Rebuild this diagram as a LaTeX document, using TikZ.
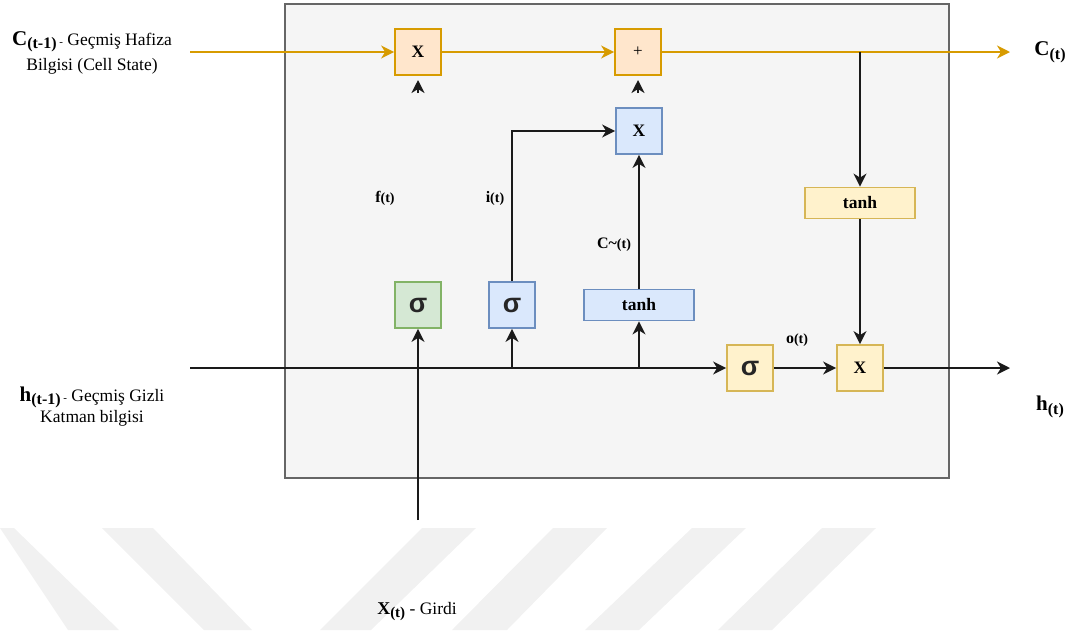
\documentclass[tikz,border=0pt]{standalone}
\usepackage{fontspec}
\setmainfont{Liberation Serif}
\newfontfamily\sigfont{Liberation Sans}
\usetikzlibrary{arrows.meta}
\definecolor{orfill}{HTML}{FFE6CC}
\definecolor{ordraw}{HTML}{D79B00}
\definecolor{blfill}{HTML}{DAE8FC}
\definecolor{bldraw}{HTML}{6C8EBF}
\definecolor{grfill}{HTML}{D5E8D4}
\definecolor{grdraw}{HTML}{82B366}
\definecolor{yefill}{HTML}{FFF2CC}
\definecolor{yedraw}{HTML}{D6B656}
\definecolor{cellbg}{HTML}{F5F5F5}
\definecolor{cellbd}{HTML}{666666}
\definecolor{wm}{HTML}{F1F1F1}
\definecolor{ink}{HTML}{1A1A1A}
\begin{document}
\begin{tikzpicture}[x=1pt,y=-1pt,
  sqbox/.style={draw, line width=1.8pt, minimum width=46pt, minimum height=46pt, inner sep=0pt},
  widebox/.style={draw, line width=1.8pt, minimum width=110pt, minimum height=31pt, inner sep=0pt},
  orbox/.style={fill=orfill, draw=ordraw},
  blbox/.style={fill=blfill, draw=bldraw},
  grbox/.style={fill=grfill, draw=grdraw},
  yebox/.style={fill=yefill, draw=yedraw},
  tip/.style={-{Stealth[length=13pt,width=13pt,inset=4pt]}},
  orline/.style={tip, draw=ordraw, line width=1.9pt},
  bline/.style={tip, draw=ink, line width=1.9pt},
  lbl/.style={font=\fontsize{17.5}{20}\selectfont},
  btxt/.style={font=\fontsize{17.5}{19}\selectfont\bfseries},
  sig/.style={font=\fontsize{27}{29}\selectfont\sigfont\bfseries, text=black!85}
]
\useasboundingbox (0,0) rectangle (1074,630);
% watermark stripes
\fill[wm] (0,528) -- (14,528) -- (119,630) -- (68,630) -- cycle;
\fill[wm] (102,528) -- (153,528) -- (252,630) -- (204,630) -- cycle;
\fill[wm] (422,528) -- (476,528) -- (371,630) -- (320,630) -- cycle;
\fill[wm] (553,528) -- (607,528) -- (507,630) -- (452,630) -- cycle;
\fill[wm] (692,528) -- (746,528) -- (639,630) -- (585,630) -- cycle;
\fill[wm] (822,528) -- (876,528) -- (772,630) -- (718,630) -- cycle;
% container
\node[draw=cellbd, fill=cellbg, line width=1.5pt, minimum width=664pt, minimum height=474pt, inner sep=0pt, anchor=north west] (cell) at (284,3) {};
% boxes
\node[sqbox, orbox, btxt] (x1) at (418,52) {X};
\node[sqbox, orbox, font=\fontsize{17}{19}\selectfont] (plus) at (638,52) {+};
\node[sqbox, blbox, btxt] (x2) at (639,131) {X};
\node[widebox, yebox, btxt] (tanhy) at (860,203) {tanh};
\node[sqbox, grbox, sig] (sf) at (418,305) {σ};
\node[sqbox, blbox, sig] (si) at (512,305) {σ};
\node[widebox, blbox, btxt] (tb) at (639,305) {tanh};
\node[sqbox, yebox, sig] (so) at (750,368) {σ};
\node[sqbox, yebox, btxt] (xo) at (860,368) {X};
% free-end coordinates
\coordinate (cin) at (190,52);
\coordinate (cout) at (1010,52);
\coordinate (hin) at (190,368);
\coordinate (hout) at (1010,368);
\coordinate (xin) at (418,520);
\coordinate (a1s) at (418,93);
\coordinate (a1e) at (418,80);
\coordinate (a2s) at (638,93);
\coordinate (a2e) at (638,80);
% cell state line
\draw[orline] (cin) -- (x1);
\draw[orline] (x1) -- (plus);
\draw[orline] (plus) -- (cout);
\draw[bline] (tanhy |- plus) -- (tanhy);
\draw[bline] (tanhy) -- (xo);
% hidden line
\draw[bline] (hin) -- (so);
\draw[bline] (so) -- (xo);
\draw[bline] (xo) -- (hout);
\draw[bline] (si |- hin) -- (si);
\draw[bline] (tb |- hin) -- (tb);
\draw[bline] (si) |- (x2);
\draw[bline] (tb) -- (x2);
\draw[bline] (xin) -- (sf);
% lone arrow heads
\draw[bline] (a1s) -- (a1e);
\draw[bline] (a2s) -- (a2e);
% gate labels
\node[font=\fontsize{16}{18}\selectfont\bfseries] (ft) at (385,198) {f\fontsize{14}{16}\selectfont(t)};
\node[font=\fontsize{16}{18}\selectfont\bfseries] (it) at (495,198) {i\fontsize{14}{16}\selectfont(t)};
\node[font=\fontsize{16}{18}\selectfont\bfseries] (ct) at (614,245) {C\textasciitilde\fontsize{14}{16}\selectfont(t)};
\node[font=\fontsize{16}{18}\selectfont\bfseries] (ot) at (797,340) {o\fontsize{14}{16}\selectfont(t)};
% outer labels
\node[lbl, align=center] (lc) at (92,53) {{\fontsize{21}{22}\selectfont\bfseries C}\raisebox{-3pt}{\fontsize{16}{17}\selectfont\bfseries(t-1)}{\fontsize{11}{12}\selectfont\ -} Geçmiş Hafiza\\[5pt] Bilgisi (Cell State)};
\node[lbl, align=center] (lh) at (92,407) {{\fontsize{21}{22}\selectfont\bfseries h}\raisebox{-3pt}{\fontsize{16}{17}\selectfont\bfseries(t-1)}{\fontsize{11}{12}\selectfont\ -} Geçmiş Gizli\\[1pt] Katman bilgisi};
\node[lbl] (lct) at (1050,52) {{\fontsize{21}{22}\selectfont\bfseries C}\raisebox{-4pt}{\fontsize{16}{17}\selectfont\bfseries(t)}};
\node[lbl] (lht) at (1050,407) {{\fontsize{21}{22}\selectfont\bfseries h}\raisebox{-4pt}{\fontsize{16}{17}\selectfont\bfseries(t)}};
\node[lbl] (lx) at (417,612) {{\fontsize{18}{20}\selectfont\bfseries X}\raisebox{-3pt}{\fontsize{15}{16}\selectfont\bfseries(t)} - Girdi};
\end{tikzpicture}
\end{document}
